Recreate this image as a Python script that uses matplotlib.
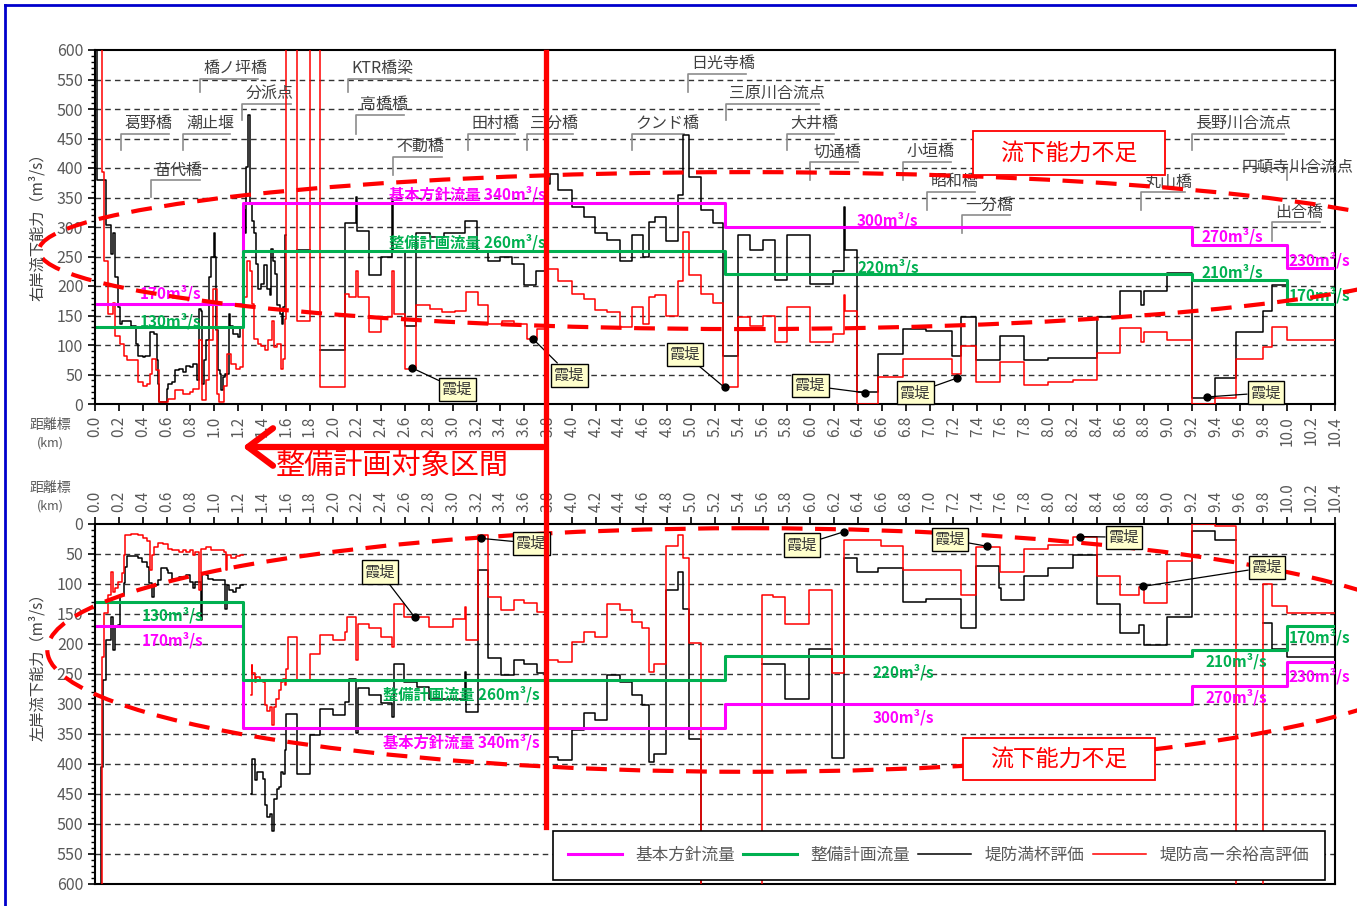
import numpy as np
import matplotlib
matplotlib.use('Agg')
import matplotlib.pyplot as plt
from matplotlib.patches import Ellipse, Rectangle, FancyArrowPatch
from matplotlib.lines import Line2D

plt.rcParams['font.family'] = ['Noto Sans CJK JP', 'DejaVu Sans']

nan = np.nan

# ---------------- data ----------------
# flow targets (km breakpoints, m3/s)
flow_x = [0.02, 1.24, 5.28, 9.2, 10.0, 10.4]
basic_flow = [170, 340, 300, 270, 230, 230]     # 基本方針流量
plan_flow = [130, 260, 220, 210, 170, 170]      # 整備計画流量

# right bank (top) : 堤防満杯評価 (black)
right_full = [(0.0,700),(0.015,380),(0.09,303),(0.135,255),(0.15,289),(0.165,215),(0.195,164),(0.21,135),
 (0.225,140),(0.3,133),(0.34,102),(0.36,82),(0.405,79),(0.42,82),(0.465,122),(0.495,118),(0.52,74),(0.525,34),
 (0.54,3),(0.6,25),(0.615,34),(0.645,37),(0.675,57),(0.705,59),(0.735,54),(0.765,65),(0.795,62),(0.825,68),
 (0.855,40),(0.87,161),(0.885,158),(0.9,34),(0.915,74),(0.93,108),(0.96,215),(0.975,249),(0.995,289),(1.01,250),
 (1.015,125),(1.03,57),(1.045,51),(1.06,23),(1.075,45),(1.09,51),(1.12,153),(1.135,133),(1.155,119),(1.2,113),
 (1.215,130),(1.24,328),(1.26,289),(1.27,402),(1.28,490),(1.3,340),(1.315,311),(1.335,289),(1.35,238),(1.365,195),
 (1.395,204),(1.42,235),(1.44,195),(1.465,184),(1.475,263),(1.495,243),(1.51,221),(1.525,167),(1.555,153),
 (1.57,136),(1.58,164),(1.595,286),(1.605,nan),(1.695,261),(1.8,nan),(1.89,91),(2.1,306),(2.19,351),(2.2,294),
 (2.295,218),(2.4,249),(2.49,345),(2.5,257),(2.6,133),(2.69,289),(2.81,283),(2.93,289),(3.1,311),(3.2,257),
 (3.3,243),(3.4,249),(3.5,238),(3.6,201),(3.7,226),(3.78,390),(3.8,373),(3.82,390),(3.88,362),(4.0,334),(4.1,317),(4.19,289),
 (4.29,278),(4.4,243),(4.5,286),(4.6,249),(4.65,308),(4.7,317),(4.79,276),(4.89,354),(4.93,456),(4.98,385),
 (5.08,328),(5.18,306),(5.27,82),(5.39,286),(5.49,261),(5.6,278),(5.7,211),(5.8,286),(6.0,204),(6.19,225),
 (6.28,334),(6.29,261),(6.39,20),(6.57,85),(6.78,127),(6.97,124),(7.19,82),(7.26,147),(7.39,74),(7.59,116),
 (7.79,74),(7.99,78),(8.4,147),(8.6,192),(8.77,167),(8.8,192),(8.99,222),(9.2,11),(9.39,44),(9.57,122),
 (9.8,158),(9.87,201),(10.0,167),(10.4,167)]

# right bank (top) : 堤防高－余裕高評価 (red)
right_margin = [(0.0,700),(0.06,393),(0.075,243),(0.105,153),(0.15,172),(0.165,116),(0.21,102),(0.24,82),
 (0.27,74),(0.36,37),(0.405,31),(0.435,34),(0.465,51),(0.48,76),(0.51,57),(0.54,3),(0.615,8),(0.675,23),
 (0.735,17),(0.795,20),(0.825,25),(0.87,108),(0.9,6),(0.93,40),(0.96,108),(0.99,195),(1.02,17),(1.04,3),
 (1.08,30),(1.11,85),(1.14,68),(1.185,59),(1.215,62),(1.24,181),(1.275,243),(1.3,226),(1.32,170),(1.335,110),
 (1.365,102),(1.395,99),(1.425,91),(1.455,108),(1.485,141),(1.5,96),(1.53,102),(1.56,59),(1.575,76),(1.59,144),
 (1.605,700),(1.695,141),(1.8,700),(1.89,28),(2.1,187),(2.13,181),(2.19,226),(2.205,181),(2.295,122),(2.4,147),
 (2.49,226),(2.505,153),(2.6,59),(2.69,167),(2.81,161),(2.91,156),(3.02,158),(3.11,190),(3.21,167),(3.3,136),
 (3.41,141),(3.51,136),(3.62,110),(3.71,127),(3.78,229),(3.88,209),(4.0,187),(4.1,178),(4.19,160),(4.29,156),
 (4.4,130),(4.5,164),(4.6,136),(4.65,181),(4.7,184),(4.79,150),(4.89,209),(4.93,291),(4.98,218),(5.08,187),
 (5.18,172),(5.27,28),(5.39,147),(5.49,133),(5.6,150),(5.7,105),(5.8,164),(6.0,105),(6.19,119),(6.28,184),
 (6.29,158),(6.39,0),(6.57,45),(6.78,76),(7.19,51),(7.26,99),(7.39,38),(7.59,71),(7.79,32),(7.99,38),(8.2,41),
 (8.4,86),(8.6,129),(8.77,105),(8.8,122),(8.99,108),(9.2,0),(9.39,11),(9.57,76),(9.8,96),(9.87,130),(10.0,109),
 (10.4,109)]

# left bank (bottom) : 堤防満杯評価 (black)
left_full = [(0.0,700),(0.054,405),(0.065,260),(0.09,194),(0.135,155),(0.15,210),(0.165,171),(0.195,169),
 (0.21,118),(0.24,99),(0.255,71),(0.27,53),(0.36,57),(0.39,63),(0.435,71),(0.45,99),(0.48,121),(0.495,101),
 (0.525,93),(0.555,74),(0.6,77),(0.615,82),(0.645,91),(0.675,93),(0.705,88),(0.765,85),(0.795,96),(0.825,107),
 (0.84,96),(0.885,160),(0.9,82),(0.93,85),(0.945,91),(0.99,93),(1.09,141),(1.11,101),(1.125,110),(1.155,113),
 (1.185,107),(1.215,101),(1.245,nan),(1.305,450),(1.32,391),(1.34,427),(1.36,413),(1.41,425),(1.425,469),
 (1.44,489),(1.47,483),(1.485,511),(1.5,458),(1.53,441),(1.545,438),(1.56,413),(1.575,416),(1.59,377),
 (1.605,316),(1.695,416),(1.8,352),(1.89,308),(1.995,318),(2.1,297),(2.13,259),(2.19,349),(2.205,274),
 (2.295,285),(2.4,299),(2.49,322),(2.505,233),(2.595,263),(2.7,271),(2.805,291),(3.1,246),(3.115,313),
 (3.21,77),(3.3,224),(3.405,252),(3.51,227),(3.6,233),(3.705,249),(3.78,388),(3.88,394),(4.0,344),(4.1,315),
 (4.19,326),(4.29,252),(4.4,263),(4.5,285),(4.59,302),(4.65,397),(4.69,383),(4.79,110),(4.89,80),(4.93,141),
 (4.98,358),(5.08,700),(5.5,nan),(5.59,234),(5.79,291),(5.99,208),(6.18,390),(6.28,57),(6.39,80),(6.57,74),
 (6.78,130),(6.97,125),(7.26,174),(7.39,70),(7.58,107),(7.6,127),(7.79,87),(7.99,73),(8.2,52),(8.4,134),
 (8.6,181),(8.76,169),(8.8,202),(8.99,155),(9.2,11),(9.39,27),(9.57,nan),(9.8,165),(9.87,209),(10.0,221),
 (10.4,221)]

# left bank (bottom) : 堤防高－余裕高評価 (red)
left_margin = [(0.0,700),(0.055,221),(0.075,149),(0.105,118),(0.135,80),(0.15,113),(0.165,107),(0.195,96),
 (0.225,82),(0.24,52),(0.255,18),(0.3,17),(0.36,18),(0.405,24),(0.435,29),(0.465,77),(0.48,52),(0.495,38),
 (0.525,32),(0.57,34),(0.615,41),(0.645,43),(0.705,46),(0.735,43),(0.765,46),(0.795,43),(0.825,52),(0.84,46),
 (0.87,110),(0.885,41),(0.93,38),(0.975,43),(1.08,46),(1.095,77),(1.11,52),(1.14,57),(1.185,54),(1.215,52),
 (1.245,nan),(1.305,285),(1.315,235),(1.32,249),(1.34,263),(1.35,255),(1.38,260),(1.41,263),(1.425,302),
 (1.44,311),(1.47,305),(1.485,335),(1.5,305),(1.515,291),(1.545,277),(1.56,263),(1.575,258),(1.59,269),
 (1.605,241),(1.615,188),(1.695,260),(1.8,216),(1.89,185),(1.995,194),(2.1,180),(2.115,155),(2.19,227),
 (2.205,166),(2.295,174),(2.4,188),(2.49,205),(2.505,134),(2.595,155),(2.805,171),(3.0,158),(3.1,138),
 (3.115,193),(3.21,18),(3.3,122),(3.405,144),(3.51,127),(3.6,132),(3.705,146),(3.78,227),(3.88,230),(4.0,196),
 (4.1,180),(4.19,188),(4.29,134),(4.4,144),(4.5,163),(4.59,174),(4.65,246),(4.69,234),(4.79,37),(4.89,19),
 (4.93,56),(4.98,198),(5.08,700),(5.59,119),(5.69,121),(5.79,166),(5.99,110),(6.18,249),(6.28,27),(6.59,37),
 (6.78,77),(7.26,119),(7.39,38),(7.59,80),(7.79,42),(7.99,35),(8.2,21),(8.4,87),(8.6,119),(8.76,105),(8.8,131),
 (8.99,61),(9.2,0),(9.39,4),(9.57,700),(9.8,100),(9.87,137),(10.0,149),(10.4,149)]

# bridge / confluence names on the right-bank chart: (name, km, line level, tick bottom, line end)
bridges = [('葛野橋',0.22,458,430,0.62),('潮止堰',0.74,458,430,1.13),('苗代橋',0.47,379,351,0.88),
 ('橋ノ坪橋',0.88,551,528,1.37),('分派点',1.23,509,481,1.64),('KTR橋梁',2.12,551,528,2.63),
 ('高橋橋',2.19,490,458,2.59),('不動橋',2.5,419,388,2.91),('田村橋',3.13,458,430,3.52),
 ('三分橋',3.62,458,430,4.01),('クンド橋',4.5,458,430,4.94),('日光寺橋',4.97,560,529,5.46),
 ('三原川合流点',5.29,509,481,6.07),('大井橋',5.8,458,430,6.2),('切通橋',6.0,410,379,6.4),
 ('小垣橋',6.78,410,379,7.18),('昭和橋',6.98,359,328,7.38),('一分橋',7.27,320,289,7.67),
 ('丸山橋',8.77,359,328,9.14),('長野川合流点',9.2,458,430,9.97),('出合橋',9.87,308,277,10.27)]

# 霞堤 markers: (marker km, marker value, label km, label value)
kasumi_right = [(2.66,61,3.04,25),(3.67,111,3.98,49),(5.28,28,4.95,84),(6.46,19,6.0,31),
                (7.23,44,6.88,19),(9.33,12,9.82,19)]
kasumi_left = [(2.68,155,2.39,80),(3.24,24,3.66,32),(6.28,13,5.93,35),(7.48,37,7.17,26),
               (8.26,21,8.63,22),(8.79,104,9.83,72)]

# flow labels: (text, km, value, kind)
labels_right = [('170m³/s',0.63,187,'b'),('130m³/s',0.63,141,'p'),('基本方針流量 340m³/s',3.12,355,'b'),
 ('整備計画流量 260m³/s',3.12,274,'p'),('300m³/s',6.65,312,'b'),('220m³/s',6.65,232,'p'),
 ('270m³/s',9.54,284,'b'),('210m³/s',9.54,224,'p'),('230m³/s',10.27,243,'b'),('170m³/s',10.27,184,'p')]
labels_left = [('130m³/s',0.65,152,'p'),('170m³/s',0.65,193,'b'),('整備計画流量 260m³/s',3.07,283,'p'),
 ('基本方針流量 340m³/s',3.07,363,'b'),('220m³/s',6.78,247,'p'),('300m³/s',6.78,322,'b'),
 ('210m³/s',9.57,228,'p'),('270m³/s',9.57,289,'b'),('170m³/s',10.27,188,'p'),('230m³/s',10.27,254,'b')]

MAG = '#FF00FF'
GRN = '#00B050'
RED = '#FF0000'
GRAYTXT = '#595959'

W, H = 1357, 906
def fx(px): return px / W
def fy(py): return 1 - py / H

fig = plt.figure(figsize=(W/100, H/100), dpi=100)
ax1 = fig.add_axes([fx(95), fy(404), (1335-95)/W, (404-50)/H])
ax2 = fig.add_axes([fx(95), fy(884), (1335-95)/W, (884-524)/H])

def style(ax, top_labels):
    ax.set_xlim(0, 10.4)
    ticks = np.round(np.arange(0, 10.41, 0.2), 1)
    ax.set_xticks(ticks)
    ax.set_xticklabels([f'{t:.1f}' for t in ticks], rotation=90, fontsize=11, color=GRAYTXT)
    ax.set_yticks(np.arange(0, 601, 50))
    ax.set_yticks(np.arange(0, 601, 10), minor=True)
    ax.tick_params(axis='y', which='major', labelsize=11.5, labelcolor=GRAYTXT, direction='out', length=5, width=1.2)
    ax.tick_params(axis='y', which='minor', direction='out', length=3, width=1)
    ax.tick_params(axis='x', direction='out', length=5, width=1.2)
    if top_labels:
        ax.xaxis.set_ticks_position('top')
        ax.xaxis.set_label_position('top')
    for s in ax.spines.values():
        s.set_linewidth(1.5)
        s.set_color('black')
    for v in range(50, 600, 50):
        ax.axhline(v, color='#333333', lw=1.0, ls=(0, (4, 3)), zorder=1)

style(ax1, False)
style(ax2, True)
ax1.set_ylim(0, 600)
ax2.set_ylim(600, 0)

def steps(ax, pairs, color, label=None):
    xs = [p[0] for p in pairs]
    ys = [p[1] for p in pairs]
    ax.step(xs, ys, where='post', color=color, lw=1.1, zorder=3, label=label)

for ax in (ax1, ax2):
    ax.step(flow_x, basic_flow, where='post', color=MAG, lw=2.2, zorder=4, label='基本方針流量')
    ax.step(flow_x, plan_flow, where='post', color=GRN, lw=2.2, zorder=4, label='整備計画流量')

steps(ax1, right_full, 'black')
steps(ax1, right_margin, RED)
steps(ax2, left_full, 'black', '堤防満杯評価')
steps(ax2, left_margin, RED, '堤防高ー余裕高評価')

# flow labels
for ax, labs in ((ax1, labels_right), (ax2, labels_left)):
    for t, x, y, k in labs:
        ax.text(x, y, t, color=MAG if k == 'b' else GRN, fontsize=11, fontweight='bold',
                ha='center', va='center', zorder=6, clip_on=False)

# bridge annotations
for name, x, yh, yb, xe in bridges:
    ax1.plot([x, x, xe], [yb, yh, yh], color='#8c8c8c', lw=1.2, zorder=2)
    ax1.text(x + 0.03, yh + 3, name, color='#404040', fontsize=11.5, ha='left', va='bottom', zorder=6)
ax1.plot([10.0, 10.0], [379, 399], color='#8c8c8c', lw=1.2, zorder=2)
ax1.text(9.62, 386, '円頓寺川合流点', color='#404040', fontsize=11.5, ha='left', va='bottom', zorder=6, clip_on=False)

# 霞堤 markers
for ax, lst in ((ax1, kasumi_right), (ax2, kasumi_left)):
    for mx, my, lx, ly in lst:
        ax.annotate('霞堤', xy=(mx, my), xytext=(lx, ly), ha='center', va='center', fontsize=11,
                    color='#333333', zorder=8,
                    bbox=dict(boxstyle='square,pad=0.2', fc='#FFFFCC', ec='black', lw=1),
                    arrowprops=dict(arrowstyle='-', color='black', lw=0.9, shrinkA=0, shrinkB=0))
        ax.plot(mx, my, 'o', color='black', ms=5, zorder=9)

# dashed ellipses (shortage of capacity)
e1 = Ellipse((5.45, 260), 11.84, 266, fill=False, ec=RED, lw=3, ls=(0, (5, 3)), clip_on=False, zorder=7)
ax1.add_patch(e1)
e2 = Ellipse((5.48, 210), 11.76, 406, fill=False, ec=RED, lw=3, ls=(0, (5, 3)), clip_on=False, zorder=7)
ax2.add_patch(e2)

ax1.add_patch(Rectangle((7.36, 388), 1.61, 75, fc='white', ec=RED, lw=1.3, zorder=9))
ax1.text(8.165, 425, '流下能力不足', color=RED, fontsize=16.5, ha='center', va='center', zorder=10)
ax2.add_patch(Rectangle((7.28, 357), 1.61, 70, fc='white', ec=RED, lw=1.3, zorder=9))
ax2.text(8.085, 392, '流下能力不足', color=RED, fontsize=16.5, ha='center', va='center', zorder=10)

# legend
leg = ax2.legend(loc='lower left', bbox_to_anchor=(0.369, 0.011, 0.623, 0.134), mode='expand', ncol=4,
                 fontsize=12, frameon=True, fancybox=False, framealpha=1, edgecolor='black',
                 handlelength=3.2, borderaxespad=0, borderpad=0.95, labelcolor=GRAYTXT)
leg.get_frame().set_linewidth(1.2)
leg.set_zorder(12)

# axis titles
fig.text(fx(38), fy(223), '右岸流下能力（m³/s）', rotation=90, ha='center', va='center', fontsize=11, color='#404040')
fig.text(fx(38), fy(663), '左岸流下能力（m³/s）', rotation=90, ha='center', va='center', fontsize=11, color='#404040')
for yy in (425, 488):
    fig.text(fx(50), fy(yy), '距離標', ha='center', va='center', fontsize=10, color=GRAYTXT)
    fig.text(fx(50), fy(yy + 18), '(km)', ha='center', va='center', fontsize=9, color=GRAYTXT)

# planning section marker
xk = 95 + 3.78 * (1240 / 10.4)
fig.add_artist(Line2D([fx(xk), fx(xk)], [fy(52), fy(827)], color=RED, lw=3.8, zorder=20))
fig.add_artist(FancyArrowPatch((fx(xk), fy(447)), (fx(240), fy(447)), transform=fig.transFigure,
                               arrowstyle='->,head_length=0.6,head_width=0.45', mutation_scale=30,
                               color=RED, lw=4.5, zorder=20))
fig.text(fx(392), fy(466), '整備計画対象区間', color=RED, fontsize=21, ha='center', va='center', zorder=20)

# outer blue frame
fig.add_artist(Line2D([fx(5), fx(5)], [fy(5), 0], color='#0000CC', lw=2))
fig.add_artist(Line2D([fx(5), 1], [fy(5), fy(5)], color='#0000CC', lw=2))

fig.savefig('out.png', dpi=100)
